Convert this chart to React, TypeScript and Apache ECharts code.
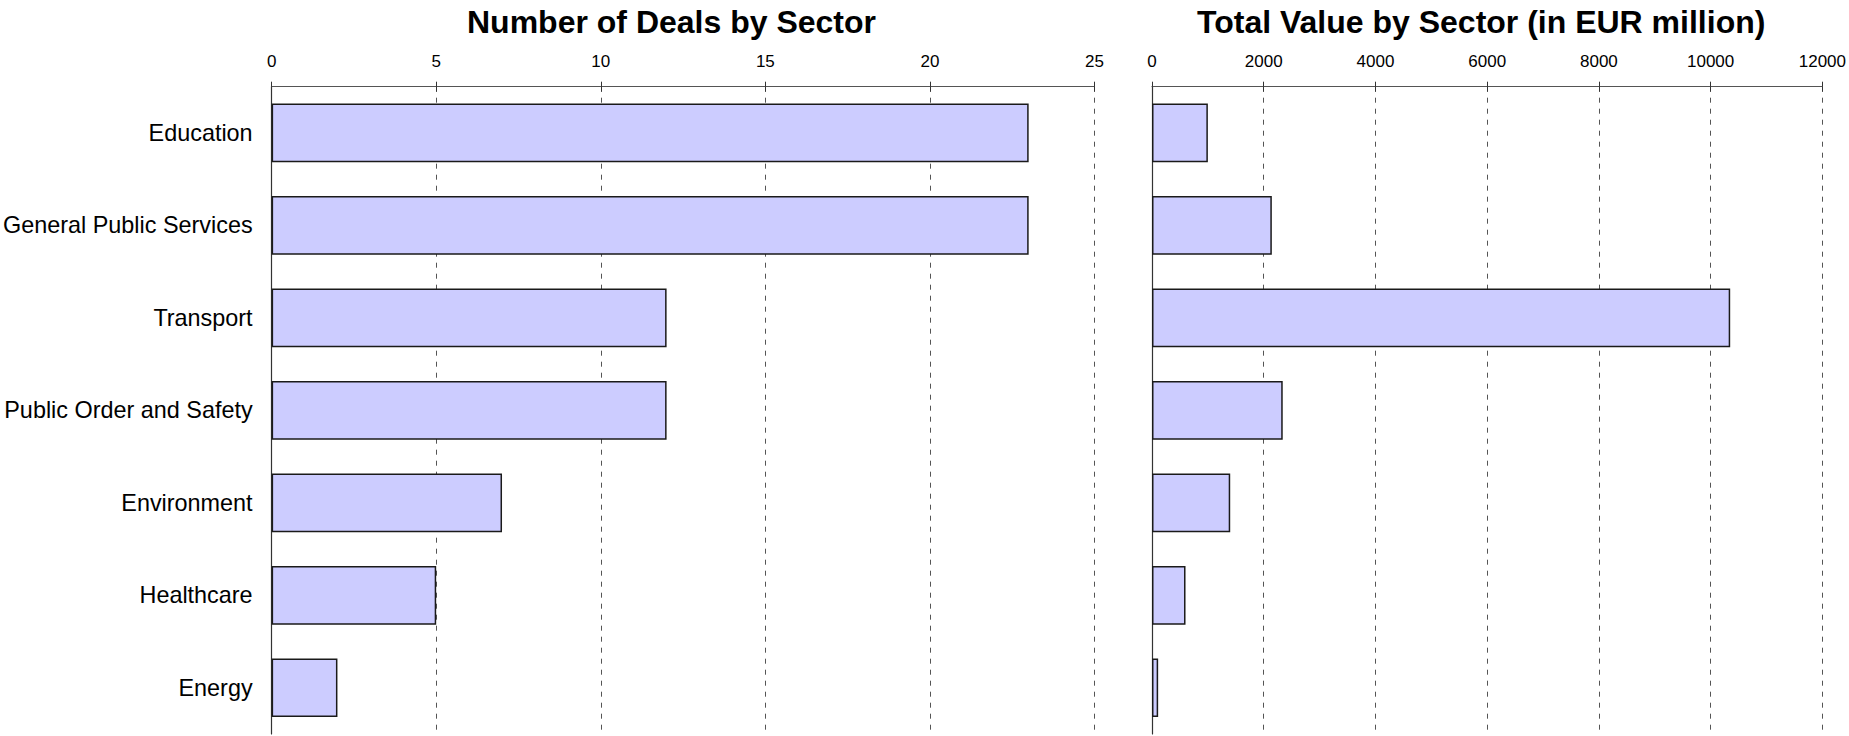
import React, { useEffect, useRef } from "react";
import * as echarts from "echarts";

const categories = [
  "Education",
  "General Public Services",
  "Transport",
  "Public Order and Safety",
  "Environment",
  "Healthcare",
  "Energy",
];
const dealCounts = [23, 23, 12, 12, 7, 5, 2];
const totalValues = [1000, 2145, 10350, 2340, 1400, 600, 110];
const dealTicks = { min: 0, max: 25, interval: 5 };
const valueTicks = { min: 0, max: 12000, interval: 2000 };
const titles = ["Number of Deals by Sector", "Total Value by Sector (in EUR million)"];

const FONT = "'Liberation Sans', Arial, sans-serif";
const AXIS_COLOR = "#555";

function makeX(gridIndex: number, ticks: { min: number; max: number; interval: number }, withLabels: boolean) {
  return {
    type: "value",
    gridIndex,
    position: "top",
    min: ticks.min,
    max: ticks.max,
    interval: ticks.interval,
    axisLine: { show: withLabels, lineStyle: { color: AXIS_COLOR, width: 1.2 } },
    axisTick: {
      show: true,
      inside: !withLabels,
      length: 5,
      lineStyle: { color: "#333", width: 1 },
    },
    axisLabel: withLabels
      ? {
          show: true,
          fontSize: 17,
          color: "#000",
          fontFamily: FONT,
          margin: 17,
          formatter: (v: number) => String(v),
        }
      : { show: false },
    splitLine: withLabels
      ? { show: true, lineStyle: { color: "#555", width: 1, type: [5, 6] } }
      : { show: false },
  };
}

function makeY(gridIndex: number, withLabels: boolean) {
  return {
    type: "category",
    gridIndex,
    data: categories,
    inverse: true,
    axisLine: { show: true, lineStyle: { color: "#333", width: 1.2 } },
    axisTick: { show: false },
    axisLabel: withLabels
      ? {
          show: true,
          fontSize: 23.4,
          color: "#000",
          fontFamily: FONT,
          margin: 19,
          verticalAlign: "middle",
          padding: [8, 0, 0, 0],
        }
      : { show: false },
    splitLine: { show: false },
  };
}

const barStyle = { color: "#ccccff", borderColor: "#1a1a1a", borderWidth: 1.5 };

export default function App() {
  const ref = useRef<HTMLDivElement>(null);
  useEffect(() => {
    if (!ref.current) return;
    const chart = echarts.init(ref.current, null, { renderer: "svg" });
    chart.setOption({
      animation: false,
      backgroundColor: "#fff",
      title: [
        {
          text: titles[0],
          left: 462,
          top: 1,
          textStyle: { fontSize: 32, fontWeight: "bold", color: "#000", fontFamily: FONT },
        },
        {
          text: titles[1],
          left: 1192,
          top: 1,
          textStyle: { fontSize: 32, fontWeight: "bold", color: "#000", fontFamily: FONT },
        },
      ],
      grid: [
        { left: 271.6, right: 754.5, top: 86.7, bottom: 2, containLabel: false },
        { left: 1152, right: 25.4, top: 86.7, bottom: 2, containLabel: false },
      ],
      xAxis: [
        makeX(0, dealTicks, true),
        makeX(0, dealTicks, false),
        makeX(1, valueTicks, true),
        makeX(1, valueTicks, false),
      ],
      yAxis: [makeY(0, true), makeY(1, false)],
      series: [
        {
          type: "bar",
          xAxisIndex: 0,
          yAxisIndex: 0,
          data: dealCounts,
          barWidth: "63.5%",
          itemStyle: barStyle,
        },
        {
          type: "bar",
          xAxisIndex: 2,
          yAxisIndex: 1,
          data: totalValues,
          barWidth: "63.5%",
          itemStyle: barStyle,
        },
      ],
    });
    return () => chart.dispose();
  }, []);
  return (
    <div
      ref={ref}
      style={{ position: "absolute", left: 0, top: 0, width: 1849, height: 736 }}
    />
  );
}
